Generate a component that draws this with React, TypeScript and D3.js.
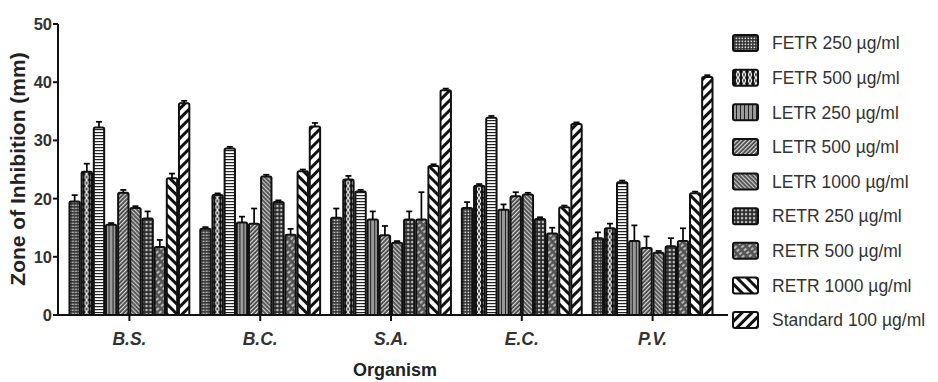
import React from 'react';
import * as d3 from 'd3';

const organisms = ['B.S.', 'B.C.', 'S.A.', 'E.C.', 'P.V.'];

const seriesNames = [
    'FETR 250 µg/ml', 'FETR 500 µg/ml', 'FETR 1000 µg/ml',
    'LETR 250 µg/ml', 'LETR 500 µg/ml', 'LETR 1000 µg/ml',
    'RETR 250 µg/ml', 'RETR 500 µg/ml', 'RETR 1000 µg/ml',
    'Standard 100 µg/ml',
];

// the original legend leaves FETR 1000 out
const legendNames = [
    'FETR 250 µg/ml', 'FETR 500 µg/ml',
    'LETR 250 µg/ml', 'LETR 500 µg/ml', 'LETR 1000 µg/ml',
    'RETR 250 µg/ml', 'RETR 500 µg/ml', 'RETR 1000 µg/ml',
    'Standard 100 µg/ml',
];

// values per series, across organisms
const fetr250 = [19.5, 14.8, 16.7, 18.4, 13.2];
const fetr500 = [24.6, 20.6, 23.3, 22.2, 14.9];
const fetr1000 = [32.2, 28.6, 21.2, 33.9, 22.8];
const letr250 = [15.5, 15.9, 16.4, 18.1, 12.7];
const letr500 = [21.0, 15.7, 13.7, 20.4, 11.5];
const letr1000 = [18.4, 23.8, 12.4, 20.7, 10.7];
const retr250 = [16.6, 19.4, 16.4, 16.5, 11.8];
const retr500 = [11.7, 13.8, 16.4, 14.0, 12.7];
const retr1000 = [23.5, 24.7, 25.6, 18.5, 20.9];
const standard100 = [36.4, 32.4, 38.6, 32.8, 40.9];

// error (SEM) per series
const fetr250Err = [1.1, 0.3, 1.6, 1.0, 1.0];
const fetr500Err = [1.4, 0.3, 0.6, 0.3, 0.8];
const fetr1000Err = [1.0, 0.3, 0.3, 0.3, 0.3];
const letr250Err = [0.3, 1.0, 1.4, 0.9, 2.7];
const letr500Err = [0.5, 2.6, 1.6, 0.7, 2.0];
const letr1000Err = [0.3, 0.3, 0.3, 0.3, 0.3];
const retr250Err = [1.2, 0.3, 1.4, 0.3, 1.4];
const retr500Err = [1.2, 1.0, 4.7, 1.0, 2.2];
const retr1000Err = [0.8, 0.3, 0.3, 0.3, 0.3];
const standard100Err = [0.4, 0.6, 0.3, 0.3, 0.3];

const yTicks = [0, 10, 20, 30, 40, 50];

const seriesValues = [fetr250, fetr500, fetr1000, letr250, letr500, letr1000, retr250, retr500, retr1000, standard100];
const seriesErrors = [fetr250Err, fetr500Err, fetr1000Err, letr250Err, letr500Err, letr1000Err, retr250Err, retr500Err, retr1000Err, standard100Err];

const FONT = '"Liberation Sans", Arial, sans-serif';

function Patterns() {
    return (
        <defs>
            <pattern id="p0" patternUnits="userSpaceOnUse" width="3" height="3">
                <rect width="3" height="3" fill="#333" />
                <rect x="0.6" y="0.6" width="1.5" height="1.5" fill="#ddd" />
            </pattern>
            <pattern id="p1" patternUnits="userSpaceOnUse" width="6" height="6">
                <rect width="6" height="6" fill="#111" />
                <path d="M0,0 Q3,3 0,6 M6,0 Q3,3 6,6" stroke="#eee" strokeWidth="1.3" fill="none" />
            </pattern>
            <pattern id="p2" patternUnits="userSpaceOnUse" width="4" height="3">
                <rect width="4" height="3" fill="#fff" />
                <rect width="4" height="1.2" fill="#222" />
            </pattern>
            <pattern id="p3" patternUnits="userSpaceOnUse" width="4" height="4">
                <rect width="4" height="4" fill="#9a9a9a" />
                <rect width="1" height="4" fill="#222" />
            </pattern>
            <pattern id="p4" patternUnits="userSpaceOnUse" width="3" height="3" patternTransform="rotate(45)">
                <rect width="3" height="3" fill="#444" />
                <rect width="1.2" height="3" fill="#ddd" />
            </pattern>
            <pattern id="p5" patternUnits="userSpaceOnUse" width="3" height="3" patternTransform="rotate(-45)">
                <rect width="3" height="3" fill="#555" />
                <rect width="1.1" height="3" fill="#ccc" />
            </pattern>
            <pattern id="p6" patternUnits="userSpaceOnUse" width="4" height="4">
                <rect width="4" height="4" fill="#2a2a2a" />
                <rect x="0.9" y="0.9" width="2.3" height="2.3" fill="#bbb" />
            </pattern>
            <pattern id="p7" patternUnits="userSpaceOnUse" width="6" height="4" patternTransform="rotate(-40)">
                <rect width="6" height="4" fill="#555" />
                <rect x="0" y="1.4" width="3.2" height="1.3" fill="#eee" />
            </pattern>
            <pattern id="p8" patternUnits="userSpaceOnUse" width="7" height="7" patternTransform="rotate(-45)">
                <rect width="7" height="7" fill="#fff" />
                <rect width="3" height="7" fill="#111" />
            </pattern>
            <pattern id="p9" patternUnits="userSpaceOnUse" width="7" height="7" patternTransform="rotate(45)">
                <rect width="7" height="7" fill="#fff" />
                <rect width="3" height="7" fill="#111" />
            </pattern>
        </defs>
    );
}

export default function App() {
    const width = 938;
    const height = 382;

    const axisLeft = 58;
    const axisRight = 728;
    const y = d3.scaleLinear().domain([0, 50]).range([315, 24]);

    const x0 = d3.scaleBand<string>()
        .domain(organisms)
        .range([64, 718])
        .paddingInner(0.07)
        .paddingOuter(0.035);

    const x1 = d3.scaleBand<number>()
        .domain(d3.range(seriesNames.length))
        .range([0, x0.bandwidth()]);

    const legendTop = 43;
    const legendStep = (320 - legendTop) / (legendNames.length - 1);

    return (
        <svg width={width} height={height}
            style={{ position: 'absolute', left: 0, top: 0, background: '#fff' }}>
            <Patterns />

            {/* bars */}
            {organisms.map((org, gi) => (
                <g key={org} transform={`translate(${x0(org)},0)`}>
                    {seriesNames.map((name, si) => {
                        const v = seriesValues[si][gi];
                        const e = seriesErrors[si][gi];
                        const bx = x1(si)!;
                        const bw = x1.bandwidth();
                        const cx = bx + bw / 2;
                        return (
                            <g key={name}>
                                <line x1={cx} x2={cx} y1={y(v)} y2={y(v + e)} stroke="#000" strokeWidth={1.7} />
                                <line x1={cx - 3} x2={cx + 3} y1={y(v + e)} y2={y(v + e)} stroke="#000" strokeWidth={1.7} />
                                <rect x={bx + 0.9} y={y(v)} width={bw - 1.8} height={y(0) - y(v)}
                                    fill={`url(#p${si})`} stroke="#111" strokeWidth={2} rx={1.5} />
                            </g>
                        );
                    })}
                </g>
            ))}

            {/* y axis */}
            <line x1={axisLeft} x2={axisLeft} y1={y(50)} y2={y(0)} stroke="#111" strokeWidth={2} />
            {yTicks.map(t => (
                <g key={t} transform={`translate(0,${y(t)})`}>
                    <line x1={axisLeft - 5} x2={axisLeft} stroke="#111" strokeWidth={2} />
                    <text x={axisLeft - 6} dy="0.36em" textAnchor="end" fontFamily={FONT}
                        fontWeight="bold" fontSize={16.5} fill="#333">{t}</text>
                </g>
            ))}
            <text transform={`translate(25,${169}) rotate(-90)`} textAnchor="middle" fontFamily={FONT}
                fontWeight="bold" fontSize={21} fill="#222">Zone of Inhibition (mm)</text>

            {/* x axis */}
            <line x1={axisLeft - 1} x2={axisRight} y1={y(0)} y2={y(0)} stroke="#111" strokeWidth={2} />
            {organisms.map(org => {
                const cx = x0(org)! + x0.bandwidth() / 2;
                return (
                    <g key={org}>
                        <line x1={cx} x2={cx} y1={y(0)} y2={y(0) + 6} stroke="#111" strokeWidth={2} />
                        <text x={cx} y={345} textAnchor="middle" fontFamily={FONT} fontWeight="bold"
                            fontStyle="italic" fontSize={17.5} fill="#333">{org}</text>
                    </g>
                );
            })}
            <text x={395} y={376} textAnchor="middle" fontFamily={FONT} fontWeight="bold"
                fontSize={18} fill="#222">Organism</text>

            {/* legend */}
            {legendNames.map((name, i) => {
                const si = seriesNames.indexOf(name);
                const ly = legendTop + i * legendStep;
                return (
                    <g key={name} transform={`translate(0,${ly})`}>
                        <rect x={733} y={-8} width={25} height={16} rx={2}
                            fill={`url(#p${si})`} stroke="#111" strokeWidth={2} />
                        <text x={772} dy="0.36em" fontFamily={FONT} fontSize={17.5}
                            fill="#333">{name}</text>
                    </g>
                );
            })}
        </svg>
    );
}
